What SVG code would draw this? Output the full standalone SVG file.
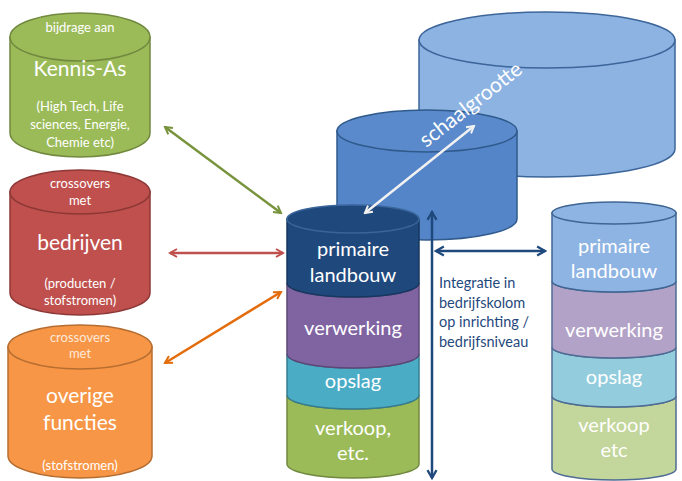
<svg xmlns="http://www.w3.org/2000/svg" width="682" height="481" viewBox="0 0 682 481">
<defs>
<style>
text{font-family:Lato,"Liberation Sans",sans-serif;fill:#fff;text-anchor:middle}
.s{font-size:13px}
.b{font-size:21px}
.m{font-size:20px}
.conn{fill:none;stroke-width:2.5}
.i{font-size:14.5px;fill:#1F497D;text-anchor:start}
</style>
<marker id="mg" viewBox="0 0 10 10" refX="8" refY="5" markerWidth="4" markerHeight="4" orient="auto-start-reverse"><path d="M1,1 L8,5 L1,9" fill="none" stroke="#77933C" stroke-width="2"/></marker>
<marker id="mr" viewBox="0 0 10 10" refX="8" refY="5" markerWidth="4" markerHeight="4" orient="auto-start-reverse"><path d="M1,1 L8,5 L1,9" fill="none" stroke="#C0504D" stroke-width="2"/></marker>
<marker id="mo" viewBox="0 0 10 10" refX="8" refY="5" markerWidth="4" markerHeight="4" orient="auto-start-reverse"><path d="M1,1 L8,5 L1,9" fill="none" stroke="#E46C0A" stroke-width="2"/></marker>
<marker id="mw" viewBox="0 0 10 10" refX="8" refY="5" markerWidth="4" markerHeight="4" orient="auto-start-reverse"><path d="M1,1 L8,5 L1,9" fill="none" stroke="#F2F2F2" stroke-width="2"/></marker>
<marker id="mb" viewBox="0 0 10 10" refX="8" refY="5" markerWidth="4.5" markerHeight="4.5" orient="auto-start-reverse"><path d="M1,1 L8,5 L1,9" fill="none" stroke="#1F497D" stroke-width="2"/></marker>
</defs>

<g id="large-cylinder">
<path d="M419,40 V149 A128,28 0 0 0 675,149 V40 Z" fill="#8DB3E2" stroke="#3C659A" stroke-width="1.5"/>
<ellipse cx="547" cy="40" rx="128" ry="28" fill="#8DB3E2" stroke="#3C659A" stroke-width="1.5"/>
</g>

<g id="medium-cylinder">
<path d="M337,131 V219 A90,21 0 0 0 517,219 V131 Z" fill="#5585C9" stroke="#2F5A8C" stroke-width="1.5"/>
<ellipse cx="427" cy="131" rx="90" ry="21" fill="#5A8ACB" stroke="#2F5A8C" stroke-width="1.5"/>
</g>

<g id="kennis-as">
<path d="M10,37 V133 A70,24 0 0 0 150,133 V37 Z" fill="#9BBB59" stroke="#71893F" stroke-width="1.5"/>
<ellipse cx="80" cy="37" rx="70" ry="24" fill="#9BBB59" stroke="#71893F" stroke-width="1.5"/>
<text class="s" x="80" y="32">bijdrage aan</text>
<text class="b" x="80" y="76">Kennis-As</text>
<text class="s" x="80" y="111">(High Tech, Life</text>
<text class="s" x="80" y="129">sciences, Energie,</text>
<text class="s" x="80" y="147">Chemie etc)</text>
</g>

<g id="bedrijven">
<path d="M10,192 V293 A70,22 0 0 0 150,293 V192 Z" fill="#C0504D" stroke="#8C3836" stroke-width="1.5"/>
<ellipse cx="80" cy="192" rx="70" ry="22" fill="#C0504D" stroke="#8C3836" stroke-width="1.5"/>
<text class="s" x="80" y="188">crossovers</text>
<text class="s" x="80" y="205">met</text>
<text class="b" x="80" y="250">bedrijven</text>
<text class="s" x="80" y="288">(producten /</text>
<text class="s" x="80" y="305">stofstromen)</text>
</g>

<g id="overige-functies">
<path d="M8,347 V456 A72,22 0 0 0 152,456 V347 Z" fill="#F79646" stroke="#B66D31" stroke-width="1.5"/>
<ellipse cx="80" cy="347" rx="72" ry="22" fill="#F79646" stroke="#B66D31" stroke-width="1.5"/>
<text class="s" x="80" y="342" style="fill:#FDE9D9">crossovers</text>
<text class="s" x="80" y="358" style="fill:#FDE9D9">met</text>
<text class="b" x="80" y="403">overige</text>
<text class="b" x="80" y="430">functies</text>
<text class="s" x="80" y="470">(stofstromen)</text>
</g>

<g id="center-stack">
<path d="M287,395 A66,14 0 0 0 419,395 V464 A66,14 0 0 1 287,464 Z" fill="#9BBB59" stroke="#71893F" stroke-width="1.5"/>
<path d="M287,354 A66,14 0 0 0 419,354 V395 A66,14 0 0 1 287,395 Z" fill="#4BACC6" stroke="#357D91" stroke-width="1.5"/>
<path d="M287,283 A66,14 0 0 0 419,283 V354 A66,14 0 0 1 287,354 Z" fill="#8064A2" stroke="#5C4776" stroke-width="1.5"/>
<path d="M287,219 V283 A66,14 0 0 0 419,283 V219 Z" fill="#1F497D" stroke="#17375E" stroke-width="1.5"/>
<ellipse cx="353" cy="219" rx="66" ry="14" fill="#1F497D" stroke="#3A659A" stroke-width="1.5"/>
<text class="m" x="353" y="256">primaire</text>
<text class="m" x="353" y="282">landbouw</text>
<text class="m" x="353" y="335">verwerking</text>
<text class="m" x="353" y="388">opslag</text>
<text class="m" x="353" y="435">verkoop,</text>
<text class="m" x="353" y="460">etc.</text>
</g>

<g id="right-stack">
<path d="M552,396 A62,11 0 0 0 676,396 V469 A62,11 0 0 1 552,469 Z" fill="#C3D69B" stroke="#4F6C94" stroke-width="1.5"/>
<path d="M552,347 A62,11 0 0 0 676,347 V396 A62,11 0 0 1 552,396 Z" fill="#93CDDD" stroke="#4F6C94" stroke-width="1.5"/>
<path d="M552,281 A62,11 0 0 0 676,281 V347 A62,11 0 0 1 552,347 Z" fill="#B3A2C7" stroke="#4F6C94" stroke-width="1.5"/>
<path d="M552,213 V281 A62,11 0 0 0 676,281 V213 Z" fill="#8EB4E3" stroke="#3F6593" stroke-width="1.5"/>
<ellipse cx="614" cy="213" rx="62" ry="11" fill="#8EB4E3" stroke="#3F6593" stroke-width="1.5"/>
<text class="m" x="614" y="253">primaire</text>
<text class="m" x="614" y="278">landbouw</text>
<text class="m" x="614" y="337">verwerking</text>
<text class="m" x="614" y="384">opslag</text>
<text class="m" x="614" y="432">verkoop</text>
<text class="m" x="614" y="457">etc</text>
</g>

<g id="connectors">
<line class="conn" x1="165" y1="127" x2="281" y2="213" stroke="#77933C" marker-start="url(#mg)" marker-end="url(#mg)"/>
<line class="conn" x1="170" y1="253" x2="283" y2="253" stroke="#C0504D" marker-start="url(#mr)" marker-end="url(#mr)"/>
<line class="conn" x1="165" y1="363" x2="281" y2="292" stroke="#E46C0A" marker-start="url(#mo)" marker-end="url(#mo)"/>
<line class="conn" x1="365" y1="213" x2="474" y2="126" stroke="#F2F2F2" marker-start="url(#mw)" marker-end="url(#mw)"/>
<line class="conn" x1="432" y1="212" x2="432" y2="478" stroke="#1F497D" stroke-width="2" marker-start="url(#mb)" marker-end="url(#mb)"/>
<line class="conn" x1="436" y1="251" x2="545" y2="251" stroke="#1F497D" stroke-width="2" marker-start="url(#mb)" marker-end="url(#mb)"/>
</g>

<g id="labels">
<text x="475" y="110" transform="rotate(-38 475 110)" style="font-size:21px">schaalgrootte</text>
<text class="i" x="439" y="288">Integratie in</text>
<text class="i" x="439" y="308">bedrijfskolom</text>
<text class="i" x="439" y="327">op inrichting /</text>
<text class="i" x="439" y="347">bedrijfsniveau</text>
</g>
</svg>
